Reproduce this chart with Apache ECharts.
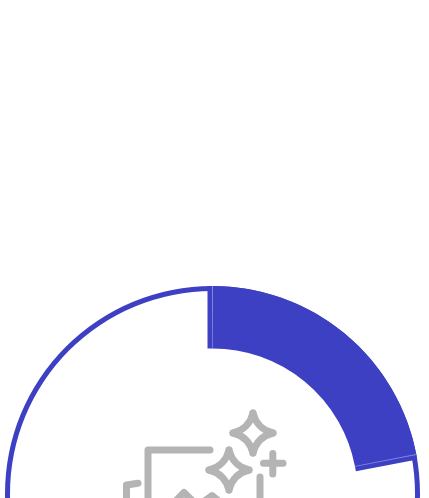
<!DOCTYPE html>
<html><head><meta charset="utf-8">
<style>html,body{margin:0;padding:0;background:#fff}#c{width:429px;height:498px}</style>
<script src="https://cdn.jsdelivr.net/npm/echarts@6/dist/echarts.min.js"></script>
</head><body><div id="c"></div>
<script>
const shareValue = 22;
const restValue = 78;
const seamValue = 0.08;
const BLUE = '#3e40c3', SEAM = '#8486dc', GRAY = '#b4b4b4';
const center = [212.5, 493.5];
const stars = [[253, 433, 20], [229, 470, 20]];
const iconLines = [
  [[272.8,453.5],[272.8,474]],
  [[263.5,463.3],[283,463.3]],
  [[210,450],[148,450],[148,498]],
  [[260,477],[260,498]],
  [[138,483.2],[126.5,485],[126.5,498]],
  [[165,512],[184,492.5],[199,507]],
  [[199,505],[212,495.5],[232,512]]
];
const iconStyle = {fill:null, stroke:GRAY, lineWidth:7, lineCap:'round', lineJoin:'round'};
const starCurves = stars.flatMap(([cx,cy,r])=>{
  const k = r*0.2;
  const tips = [[cx,cy-r,k,-k],[cx+r,cy,k,k],[cx,cy+r,-k,k],[cx-r,cy,-k,-k]];
  return tips.map((t,i)=>{
    const n = tips[(i+1)%4];
    return {type:'bezierCurve', silent:true, style:iconStyle,
      shape:{x1:t[0],y1:t[1],x2:n[0],y2:n[1],cpx1:cx+t[2],cpy1:cy+t[3]}};
  });
});
const chart = echarts.init(document.getElementById('c'), null, {renderer:'canvas'});
const base = {type:'pie', center, silent:true, animation:false, startAngle:90, clockwise:true,
  label:{show:false}, labelLine:{show:false}, emphasis:{disabled:true}};
chart.setOption({
  backgroundColor:'#fff',
  animation:false,
  series:[
    {...base, radius:[202.5,207.5], data:[{value:shareValue+restValue, itemStyle:{color:BLUE}}]},
    {...base, radius:[150,202.5], data:[
      {value:shareValue, itemStyle:{color:BLUE, borderColor:BLUE, borderWidth:10, borderJoin:'miter'}},
      {value:restValue, itemStyle:{color:'rgba(0,0,0,0)'}}
    ]},
    {...base, startAngle:90.15, radius:[145,207.5], data:[
      {value:seamValue, itemStyle:{color:SEAM}},
      {value:shareValue-seamValue, itemStyle:{color:'rgba(0,0,0,0)'}},
      {value:seamValue, itemStyle:{color:SEAM}},
      {value:restValue-seamValue, itemStyle:{color:'rgba(0,0,0,0)'}}
    ]}
  ],
  graphic:iconLines.map(points=>({type:'polyline', silent:true, shape:{points}, style:iconStyle})).concat(starCurves)
});
</script></body></html>
